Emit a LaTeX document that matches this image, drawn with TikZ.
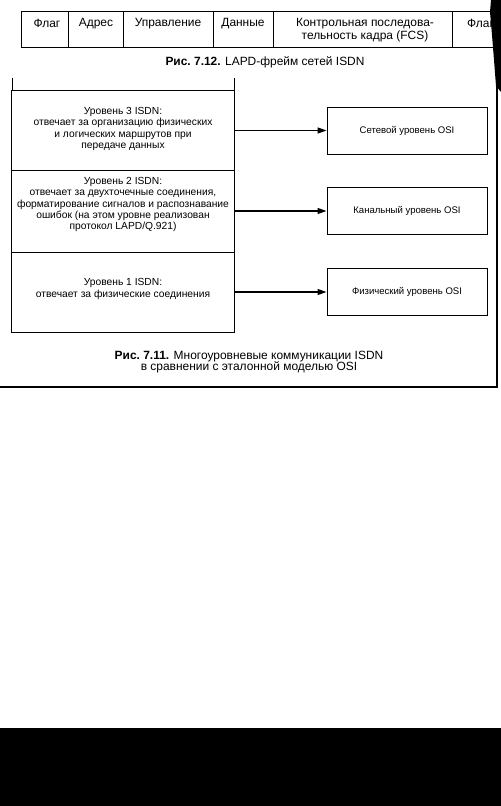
\documentclass[tikz,border=0pt]{standalone}
\usepackage{fontspec}
\setmainfont{Liberation Sans}
\usetikzlibrary{arrows.meta}
\begin{document}
\begin{tikzpicture}[x=1bp,y=-1bp,
 cell/.style={draw, line width=1.2bp, minimum height=36bp, inner sep=0, anchor=north west},
 celltext/.style={font=\fontsize{12}{12.5}\selectfont, align=center, inner sep=0},
 lbox/.style={draw, line width=1bp, minimum width=222bp, inner sep=0},
 ltext/.style={font=\fontsize{10.3}{11.3}\selectfont, align=center, inner sep=0},
 rbox/.style={draw, line width=1bp, minimum width=160bp, minimum height=47bp, inner sep=0, font=\fontsize{9.6}{11}\selectfont},
 conn/.style={line width=1.3bp, -{Triangle[length=9bp,width=6bp]}},
 captext/.style={font=\fontsize{12}{11.5}\selectfont, align=center, inner sep=0}
]
\useasboundingbox (0,0) rectangle (501,806);
\fill[white] (0,0) rectangle (501,806);
% frame table
\node[cell, minimum width=47bp] (c1) at (21,11) {};
\node[cell, minimum width=55bp] (c2) at (68,11) {};
\node[cell, minimum width=90bp] (c3) at (123,11) {};
\node[cell, minimum width=60bp] (c4) at (213,11) {};
\node[cell, minimum width=179bp] (c5) at (273,11) {};
\node[cell, minimum width=70bp] (c6) at (452,11) {};
\node[celltext] (t1) at (47,23.5) {Флаг};
\node[celltext] (t2) at (96,23.5) {Адрес};
\node[celltext] (t3) at (168,23.5) {Управление};
\node[celltext] (t4) at (243,23.5) {Данные};
\node[celltext] (t5) at (365,30) {Контрольная последова-\\тельность кадра (FCS)};
\node[celltext, anchor=west] (t6) at (467,23.5) {Флаг};
% scan smudge
\fill[black] (491,0) -- (501,0) -- (501,92) -- (496,86) -- (494,60) -- (492,35) -- (490,12) -- cycle;
\node[captext] (cap12) at (265,62) {{\bfseries Рис.~7.12.} LAPD-фрейм сетей ISDN};
% left column
\draw[line width=1bp] (12,78) -- (12,91) (234,78) -- (234,91);
\node[lbox, minimum height=79bp] (l3) at (123,130.5) {};
\node[lbox, minimum height=82bp] (l2) at (123,211) {};
\node[lbox, minimum height=80bp] (l1) at (123,292) {};
\node[ltext] (x3) at (123,129) {Уровень 3 ISDN:\\отвечает за организацию физических\\и логических маршрутов при\\передаче данных};
\node[ltext] (x2) at (123,204.5) {Уровень 2 ISDN:\\отвечает за двухточечные соединения,\\форматирование сигналов и распознавание\\ошибок (на этом уровне реализован\\протокол LAPD/Q.921)};
\node[ltext] (x1) at (123,289) {Уровень 1 ISDN:\\отвечает за физические соединения};
% right column
\node[rbox] (r3) at (407,130.5) {Сетевой уровень OSI};
\node[rbox] (r2) at (407,211) {Канальный уровень OSI};
\node[rbox] (r1) at (407,292) {Физический уровень OSI};
\draw[conn] (l3) -- (r3);
\draw[conn] (l2) -- (r2);
\draw[conn] (l1) -- (r1);
\node[captext] (cap11) at (249,362) {{\bfseries Рис.~7.11.} Многоуровневые коммуникации ISDN\\в сравнении с эталонной моделью OSI};
% outer frame
\draw[line width=1.3bp] (0,387) -- (497,387) -- (497,85);
% bottom black band
\fill[black] (0,728) rectangle (501,806);
\end{tikzpicture}
\end{document}
